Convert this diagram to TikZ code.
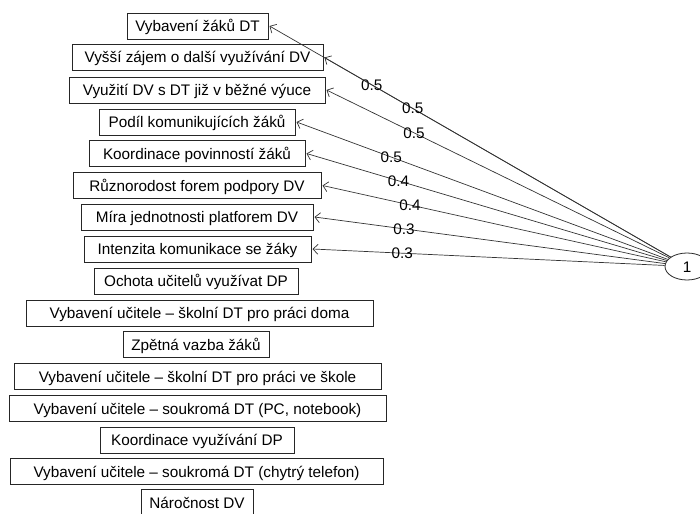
\documentclass[tikz,border=0pt]{standalone}
\usepackage{fontspec}
\setmainfont{Liberation Sans}
\usetikzlibrary{shapes.geometric,arrows.meta}
\begin{document}
\begin{tikzpicture}[x=1pt,y=-1pt,
  txt/.style={font=\fontsize{15.3}{18}\selectfont, text height=11pt, text depth=0pt},
  box/.style={txt, draw=black!85, line width=0.8pt, minimum height=26pt, inner sep=0pt, outer sep=1.5pt},
  lat/.style={txt, draw=black!85, line width=0.8pt, ellipse, minimum width=44pt, minimum height=27pt, inner sep=0pt},
  arr/.style={draw=black!80, line width=0.7pt, -{Straight Barb[length=5pt,width=10pt]}},
  lbl/.style={txt, inner sep=0pt, pos=0.745}]
\clip (0,0) rectangle (700,513);
\node[box, minimum width=141pt] (b1)  at (197.5,26)  {Vybavení žáků DT};
\node[box, minimum width=251pt] (b2)  at (197.5,57.5){Vyšší zájem o další využívání DV};
\node[box, minimum width=256pt] (b3)  at (197,90)    {Využití DV s DT již v běžné výuce};
\node[box, minimum width=196pt] (b4)  at (197,122)   {Podíl komunikujících žáků};
\node[box, minimum width=216pt] (b5)  at (197,153.5) {Koordinace povinností žáků};
\node[box, minimum width=248pt] (b6)  at (197,185.5) {Různorodost forem podpory DV};
\node[box, minimum width=232pt] (b7)  at (197,217)   {Míra jednotnosti platforem DV};
\node[box, minimum width=227pt] (b8)  at (197.5,249) {Intenzita komunikace se žáky};
\node[box, minimum width=204pt] (b9)  at (196,281)   {Ochota učitelů využívat DP};
\node[box, minimum width=347pt] (b10) at (199.5,313) {Vybavení učitele – školní DT pro práci doma};
\node[box, minimum width=146pt] (b11) at (196,344.5) {Zpětná vazba žáků};
\node[box, minimum width=367pt] (b12) at (197.5,376.5){Vybavení učitele – školní DT pro práci ve škole};
\node[box, minimum width=377pt] (b13) at (197.5,408.5){Vybavení učitele – soukromá DT (PC, notebook)};
\node[box, minimum width=194pt] (b14) at (197,440)   {Koordinace využívání DP};
\node[box, minimum width=373pt] (b15) at (196.5,471.5){Vybavení učitele – soukromá DT (chytrý telefon)};
\node[box, minimum width=112pt] (b16) at (197,502.5) {Náročnost DV};
\node[lat] (f) at (687,266.5) {1};
\draw[arr] (f) -- node[lbl]{0.5} (b1.east);
\draw[arr] (f) -- node[lbl]{0.5} (b2.east);
\draw[arr] (f) -- node[lbl]{0.5} (b3.east);
\draw[arr] (f) -- node[lbl]{0.5} (b4.east);
\draw[arr] (f) -- node[lbl]{0.4} (b5.east);
\draw[arr] (f) -- node[lbl]{0.4} (b6.east);
\draw[arr] (f) -- node[lbl]{0.3} (b7.east);
\draw[arr] (f) -- node[lbl]{0.3} (b8.east);
\end{tikzpicture}
\end{document}
